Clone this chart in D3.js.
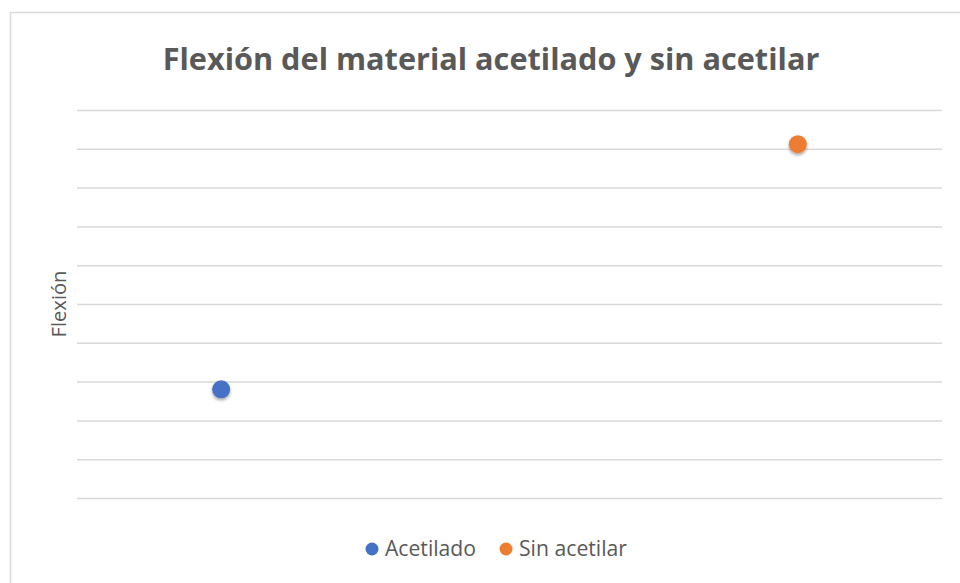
<!DOCTYPE html>
<html>
<head>
<meta charset="utf-8">
<script src="https://cdn.jsdelivr.net/npm/d3@7"></script>
<style>
  html, body { margin: 0; padding: 0; background: #fff; }
  text { font-family: "Open Sans", "Noto Sans", sans-serif; }
</style>
</head>
<body>
<div id="chart"></div>
<script>
"use strict";

// data
const series = ["Acetilado", "Sin acetilar"];
const xValues = [1, 5];
const yValues = [28.0, 91.2];
const colors = ["#4472c4", "#ed7d31"];
const yTicks = d3.range(0, 101, 10);

const svgWidth = 960,
    svgHeight = 583;

const margin = { top: 110, right: 18, bottom: 85, left: 77 },
    plotWidth = svgWidth - margin.left - margin.right,
    plotHeight = svgHeight - margin.top - margin.bottom;

const svg = d3.select("#chart").append("svg")
    .attr("width", svgWidth)
    .attr("height", svgHeight);

// marker shadow
const defs = svg.append("defs");
defs.append("filter")
    .attr("id", "shadow")
    .attr("x", "-50%").attr("y", "-50%")
    .attr("width", "200%").attr("height", "200%")
    .append("feDropShadow")
    .attr("dx", 0).attr("dy", 2)
    .attr("stdDeviation", 1.8)
    .attr("flood-color", "#000")
    .attr("flood-opacity", 0.35);

// chart frame (only left and top edges visible)
svg.append("rect")
    .attr("x", 10.5).attr("y", 12.5)
    .attr("width", 980).attr("height", 600)
    .attr("fill", "none")
    .attr("stroke", "#d9d9d9")
    .attr("stroke-width", 1.5);

const g = svg.append("g")
    .attr("transform", `translate(${margin.left},${margin.top})`);

const x = d3.scaleLinear().domain([0, 6]).range([0, plotWidth]);
const y = d3.scaleLinear().domain([0, 100]).range([plotHeight, 0]);

// gridlines via axis
g.append("g")
    .attr("class", "grid")
    .call(d3.axisLeft(y).tickValues(yTicks).tickSize(-plotWidth).tickFormat(""))
    .call(a => a.select(".domain").remove())
    .call(a => a.selectAll("line")
        .attr("stroke", "#d9d9d9")
        .attr("stroke-width", 1.5));

// points
g.append("g")
    .selectAll("circle")
    .data(series)
    .enter()
    .append("circle")
    .attr("cx", (d, i) => x(xValues[i]))
    .attr("cy", (d, i) => y(yValues[i]))
    .attr("r", 9)
    .attr("fill", (d, i) => colors[i])
    .attr("filter", "url(#shadow)");

// fit text to a width
function fitWidth(sel, target) {
    const node = sel.node();
    const size = parseFloat(sel.attr("font-size"));
    const w = node.getComputedTextLength();
    sel.attr("font-size", (size * target / w).toFixed(2));
}

// title
const title = svg.append("text")
    .attr("x", 491)
    .attr("y", 70)
    .attr("text-anchor", "middle")
    .attr("font-size", 30)
    .attr("font-weight", "bold")
    .attr("fill", "#595959")
    .text("Flexión del material acetilado y sin acetilar");
fitWidth(title, 657);

// y axis label
const ylab = svg.append("text")
    .attr("transform", "translate(66,304) rotate(-90)")
    .attr("text-anchor", "middle")
    .attr("font-size", 18)
    .attr("fill", "#595959")
    .text("Flexión");
fitWidth(ylab, 67);

// legend
const legendX = [372, 506];
const legendW = [91, 108];
const legend = svg.append("g")
    .selectAll("g")
    .data(series)
    .enter()
    .append("g")
    .attr("transform", (d, i) => `translate(${legendX[i]},549)`);

legend.append("circle")
    .attr("r", 6.5)
    .attr("fill", (d, i) => colors[i]);

legend.append("text")
    .attr("x", 13)
    .attr("y", 7)
    .attr("font-size", 19)
    .attr("fill", "#595959")
    .text(d => d)
    .each(function (d, i) { fitWidth(d3.select(this), legendW[i]); });
</script>
</body>
</html>
